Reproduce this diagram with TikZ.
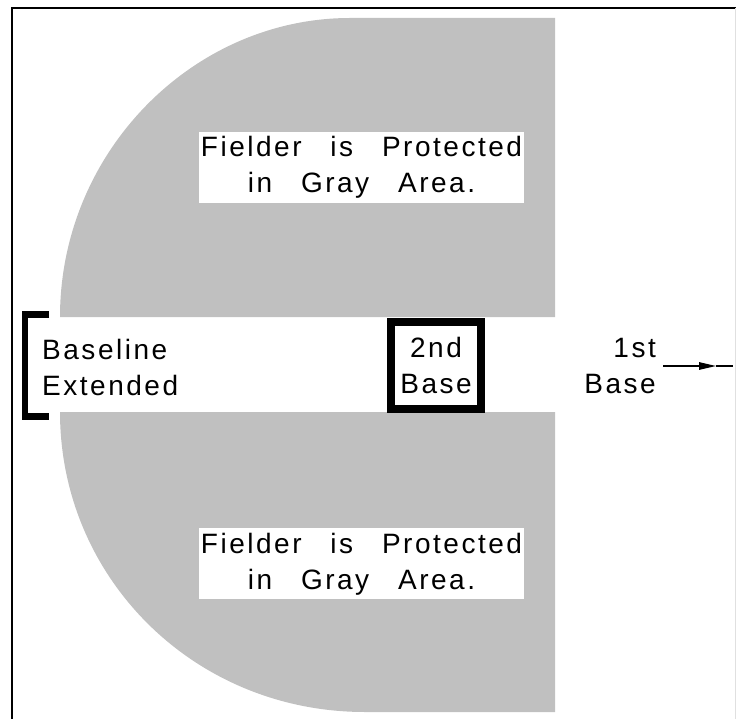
\documentclass[tikz,border=0pt]{standalone}
\usepackage{fontspec}
\setmainfont[LetterSpace=9,WordSpace=2.8]{Liberation Sans}
\usetikzlibrary{arrows.meta}
\definecolor{fieldgray}{RGB}{192,192,192}
\begin{document}
\begin{tikzpicture}[x=1pt,y=-1pt,
  lbl/.style={inner sep=0pt, font=\fontsize{28}{36}\selectfont},
  whitebox/.style={fill=white, draw=none, inner sep=0pt, minimum width=325pt, minimum height=71pt},
  gray area/.style={fill=fieldgray, draw=none},
  basebox/.style={draw=black, line width=8pt, minimum width=90pt, minimum height=87pt, inner sep=0pt},
  frame/.style={draw=black, line width=2pt}
]
\useasboundingbox (0,0) rectangle (736,719);
% frame
\draw[frame] (736,8) -- (12,8) -- (12,719);
\draw[draw=black!12, line width=1pt] (735.5,8) -- (735.5,719);
% gray areas
\path[gray area] (60,317) .. controls (60,152) and (193,18) .. (350,18) -- (555,18) -- (555,317) -- cycle;
\path[gray area] (60,412) .. controls (60,578) and (194,712) .. (365,712) -- (555,712) -- (555,412) -- cycle;
% text boxes
\node[whitebox] (topbox) at (361.5,167.5) {};
\node[lbl, anchor=base] (toptext) at (361.5,157)
  {\begin{tabular}[t]{@{}c@{}}Fielder is Protected\\in Gray Area.\end{tabular}};
\node[whitebox] (botbox) at (361.5,563.5) {};
\node[lbl, anchor=base] (bottext) at (361.5,553)
  {\begin{tabular}[t]{@{}c@{}}Fielder is Protected\\in Gray Area.\end{tabular}};
% baseline extended bracket
\coordinate (brA) at (49,314.5);
\coordinate (brB) at (25,314.5);
\coordinate (brC) at (25,416.5);
\coordinate (brD) at (49,416.5);
\draw[line width=6.5pt] (brA) -- (brB) -- (brC) -- (brD);
\node[lbl, anchor=base west] (baseline) at (42,359)
  {\begin{tabular}[t]{@{}l@{}}Baseline\\Extended\end{tabular}};
% 2nd base
\node[basebox] (second) at (436,365.5) {};
\node[lbl, anchor=base] (secondtext) at (436,357)
  {\begin{tabular}[t]{@{}c@{}}2nd\\Base\end{tabular}};
% 1st base
\node[lbl, anchor=base east] (first) at (656,357)
  {\begin{tabular}[t]{@{}r@{}}1st\\Base\end{tabular}};
\coordinate (arS) at (663,366);
\coordinate (arT) at (716,366);
\coordinate (arE) at (733,366);
\draw[line width=1.2pt, -{Triangle[length=17pt,width=7.5pt]}] (arS) -- (arT);
\draw[line width=1.2pt] (arT) -- (arE);
\end{tikzpicture}
\end{document}
